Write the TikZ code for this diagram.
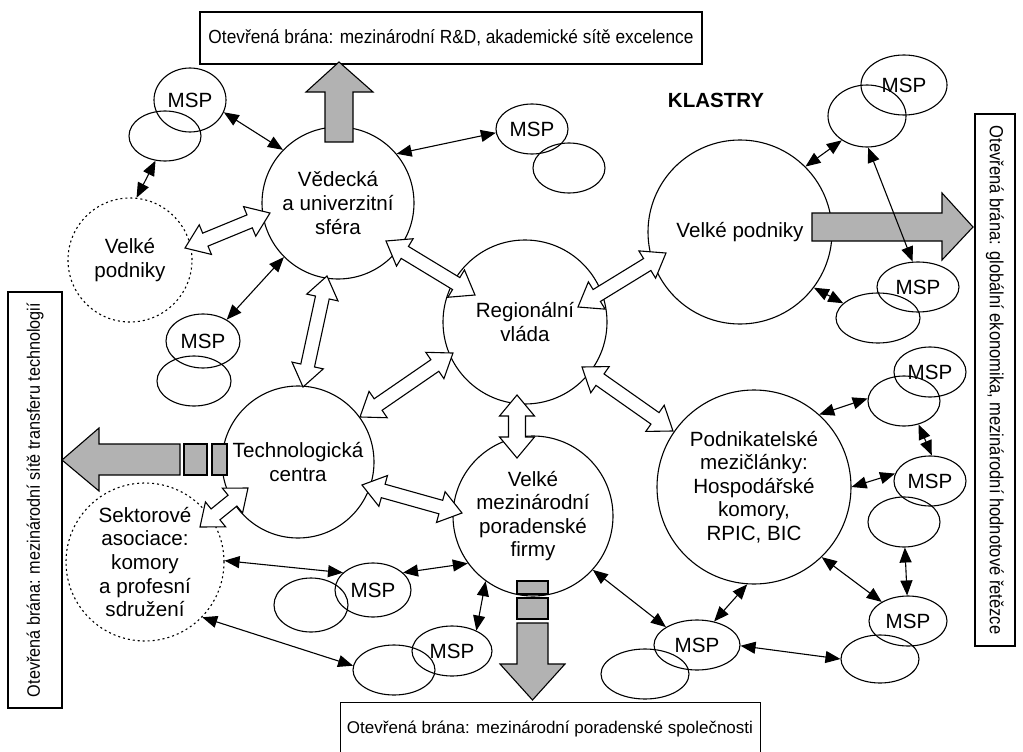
\documentclass[tikz,border=0pt]{standalone}
\usepackage{fontspec}
\setmainfont{Liberation Sans}
\usetikzlibrary{shapes.geometric,arrows.meta,calc}

\tikzset{
  big/.style={circle,draw,line width=1.1pt,inner sep=0pt,align=center,
    font=\fontsize{20.6}{23.6}\selectfont},
  dotbig/.style={big,dash pattern=on 2pt off 3pt},
  msp/.style={ellipse,draw,line width=1.1pt,inner sep=0pt,
    font=\fontsize{20.6}{23.6}\selectfont},
  box/.style={draw,line width=1.1pt,inner sep=2pt},
  link/.style={line width=1.1pt,
    {Triangle[length=15pt,width=12pt]}-{Triangle[length=15pt,width=12pt]}},
  grayarrow/.style={draw,line width=1.1pt,fill=gray!60,line join=miter},
  hollowarrow/.style={draw,line width=1.1pt,fill=white,line join=miter},
}

% hollow double arrow between two named coordinates
% #1 from, #2 to, #3 shaft half width, #4 head half width, #5 head length
\newcommand\hollowarr[5]{%
  \pgfpointanchor{#1}{center}\pgfgetlastxy\hax\hay
  \pgfpointanchor{#2}{center}\pgfgetlastxy\hbx\hby
  \pgfmathsetmacro\hang{atan2((\hby)-(\hay),(\hbx)-(\hax))}%
  \pgfmathsetmacro\hlen{veclen((\hbx)-(\hax),(\hby)-(\hay))}%
  \pgfmathsetmacro\hlm{\hlen-#5}%
  \begin{scope}[shift={(\hax,\hay)},rotate=\hang]
    \draw[hollowarrow] (0pt,0pt) -- (#5pt,#4pt) -- (#5pt,#3pt) -- (\hlm pt,#3pt)
      -- (\hlm pt,#4pt) -- (\hlen pt,0pt) -- (\hlm pt,-#4pt) -- (\hlm pt,-#3pt)
      -- (#5pt,-#3pt) -- (#5pt,-#4pt) -- cycle;
  \end{scope}}

\begin{document}
\begin{tikzpicture}[x=1pt,y=-1pt]
\useasboundingbox (0,0) rectangle (1023,752);

% ---------- gate boxes ----------
\node[box,minimum width=502pt,minimum height=52pt,font=\fontsize{19}{22}\selectfont]
  (topbox) at (451,38) {\scalebox{0.91}[1]{Otevřená brána: mezinárodní R\&D, akademické sítě excelence}};
\node[box,rotate=-90,minimum width=532pt,minimum height=40pt,font=\fontsize{19}{22}\selectfont]
  (rightbox) at (995,380) {\scalebox{0.87}[1]{Otevřená brána: globální ekonomika, mezinárodní hodnotové řetězce}};
\node[box,rotate=90,minimum width=416pt,minimum height=54pt,font=\fontsize{18}{21}\selectfont]
  (leftbox) at (35,500) {\scalebox{0.9}[1]{Otevřená brána: mezinárodní sítě transferu technologií}};
\node[box,anchor=north west,minimum width=420pt,minimum height=62pt] (botbox) at (340,702) {};
\node[anchor=base,font=\fontsize{17}{20}\selectfont] (bottxt) at (550,733)
  {Otevřená brána: mezinárodní poradenské společnosti};

\node[font=\bfseries\fontsize{20.5}{24}\selectfont] (klastry) at (716,100) {KLASTRY};

% ---------- main circles ----------
\node[big,minimum size=152pt] (ved) at (338,203) {Vědecká\\a univerzitní\\sféra};
\node[big,minimum size=164pt] (reg) at (525,322) {Regionální\\vláda};
\node[big,minimum size=184pt] (vpR) at (740,232) {Velké podniky};
\node[dotbig,minimum size=124pt] (vpL) at (130,260) {Velké\\podniky};
\node[big,minimum size=152pt] (tech) at (298,462) {Technologická\\centra};
\node[dotbig,minimum size=158pt] (sekt) at (145,562) {Sektorové\\asociace:\\komory\\a profesní\\sdružení};
\node[big,minimum size=160pt] (firmy) at (533,516) {Velké\\mezinárodní\\poradenské\\firmy};
\node[big,minimum size=194pt] (podn) at (754,487) {Podnikatelské\\mezičlánky:\\Hospodářské\\komory,\\RPIC, BIC};

% ---------- MSP ellipses ----------
\node[msp,minimum width=72pt,minimum height=64pt] (m1) at (190,100) {MSP};
\node[msp,minimum width=72pt,minimum height=50pt] (b1) at (165,136) {};
\node[msp,minimum width=72pt,minimum height=50pt] (m2) at (532,129) {MSP};
\node[msp,minimum width=72pt,minimum height=50pt] (b2) at (569,168) {};
\node[msp,minimum width=86pt,minimum height=60pt] (m3) at (904,85) {MSP};
\node[msp,minimum width=78pt,minimum height=62pt] (b3) at (867,116) {};
\node[msp,minimum width=82pt,minimum height=50pt] (m4) at (918,287) {MSP};
\node[msp,minimum width=84pt,minimum height=50pt] (b4) at (878,318) {};
\node[msp,minimum width=74pt,minimum height=54pt] (m5) at (203,341) {MSP};
\node[msp,minimum width=74pt,minimum height=50pt] (b5) at (194,381) {};
\node[msp,minimum width=72pt,minimum height=50pt] (m6) at (930,372) {MSP};
\node[msp,minimum width=72pt,minimum height=50pt] (b6) at (904,401) {};
\node[msp,minimum width=72pt,minimum height=50pt] (m7) at (930,481) {MSP};
\node[msp,minimum width=72pt,minimum height=50pt] (b7) at (904,522) {};
\node[msp,minimum width=78pt,minimum height=50pt] (m8) at (908,621) {MSP};
\node[msp,minimum width=78pt,minimum height=48pt] (b8) at (880,659) {};
\node[msp,minimum width=86pt,minimum height=50pt] (m9) at (697,645) {MSP};
\node[msp,minimum width=88pt,minimum height=50pt] (b9) at (645,674) {};
\node[msp,minimum width=76pt,minimum height=54pt] (m10) at (373,590) {MSP};
\node[msp,minimum width=74pt,minimum height=54pt] (b10) at (311,605) {};
\node[msp,minimum width=80pt,minimum height=50pt] (m11) at (452,651) {MSP};
\node[msp,minimum width=82pt,minimum height=50pt] (b11) at (394,670) {};

% ---------- hollow double arrows ----------
\coordinate (hA1) at (185,248); \coordinate (hA2) at (270,213);
\coordinate (hB1) at (327,276); \coordinate (hB2) at (303,387);
\coordinate (hC1) at (386,241); \coordinate (hC2) at (475,295);
\coordinate (hD1) at (578,307); \coordinate (hD2) at (666,253);
\coordinate (hE1) at (360,417); \coordinate (hE2) at (453,353);
\coordinate (hF1) at (517,395); \coordinate (hF2) at (517,458);
\coordinate (hG1) at (582,367); \coordinate (hG2) at (673,431);
\coordinate (hH1) at (362,485); \coordinate (hH2) at (462,513);
\coordinate (hI1) at (200,527); \coordinate (hI2) at (248,488);
\hollowarr{hA1}{hA2}{7}{16}{22}
\hollowarr{hB1}{hB2}{7}{16}{22}
\hollowarr{hC1}{hC2}{7}{16}{22}
\hollowarr{hD1}{hD2}{7}{16}{22}
\hollowarr{hE1}{hE2}{7}{16}{22}
\hollowarr{hF1}{hF2}{8.5}{17.5}{21}
\hollowarr{hG1}{hG2}{7}{16}{22}
\hollowarr{hH1}{hH2}{7}{16}{22}
\hollowarr{hI1}{hI2}{7}{16}{20}

% ---------- grey gate arrows ----------
\draw[grayarrow] (325,142) -- (325,92) -- (306,92) -- (339,62) -- (373,92) -- (353,92) -- (353,142) -- cycle;
\draw[grayarrow] (812,213) -- (942,213) -- (942,193) -- (973,227) -- (942,260) -- (942,241) -- (812,241) -- cycle;
\draw[grayarrow] (180,444) -- (99,444) -- (99,428) -- (62,460) -- (99,491) -- (99,475) -- (180,475) -- cycle;
\draw[grayarrow] (184,444) rectangle (207,475);
\draw[grayarrow] (212,444) rectangle (227,475);
\draw[grayarrow] (517,623) -- (517,664) -- (500,664) -- (532.5,700) -- (565,664) -- (548,664) -- (548,623) -- cycle;
\draw[grayarrow] (517,581) rectangle (548,594);
\draw[grayarrow] (517,598) rectangle (548,619);

% ---------- thin links ----------
\draw[link] (m1.-20) -- (ved.136);
\draw[link] (b1.-111) -- (vpL.84);
\draw[link] (m2.186) -- (ved.40);
\draw[link] (ved.225) -- (m5.42);
\draw[link] (b3.-136) -- (vpR.45);
\draw[link] (b3.-88) -- (m4.102);
\draw[link] (vpR.-37) -- (b4.157);
\draw[link] (b6.176) -- (podn.48);
\draw[link] (b6.-58) -- (m7.86);
\draw[link] (m7.168) -- (podn.0);
\draw[link] (b7.-88) -- (m8.92);
\draw[link] (podn.-46) -- (m8.144);
\draw[link] (podn.-94) -- (m9.54);
\draw[link] (firmy.-42) -- (m9.150);
\draw[link] (m9.-1) -- (b8.180);
\draw[link] (sekt.1) -- (m10.150);
\draw[link] (m10.30) -- (firmy.216);
\draw[link] (firmy.-126) -- (m11.40);
\draw[link] (sekt.-44) -- (b11.174);
\end{tikzpicture}
\end{document}
